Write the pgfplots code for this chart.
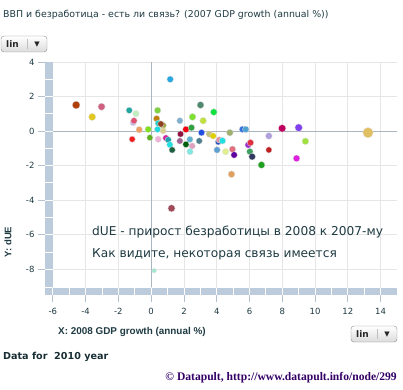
\documentclass[border=0pt]{standalone}
\usepackage{pgfplots}
\pgfplotsset{compat=1.18}
\usepackage{fontspec}
\setmainfont{DejaVu Sans}
\newfontfamily\arialf{Liberation Sans}
\newfontfamily\timesf{Liberation Serif}
\definecolor{txt}{HTML}{1E3A42}
\definecolor{barc}{HTML}{BCCCDC}
\definecolor{gridc}{HTML}{E6E6E6}
\definecolor{zeroc}{HTML}{A9B5BF}
\definecolor{copyc}{HTML}{330066}
\newcommand{\bub}[5]{\xglobal\definecolor{#3}{HTML}{#4}%
  \addplot[only marks, mark=*, mark size=#5, mark options={draw=black!12, fill=#3, line width=0.3pt}] coordinates {(#1,#2)};}
\newcommand\linbtn[2]{%
 \begin{scope}[shift={(#1,#2)}]
 \shade[top color=white, bottom color=black!14, draw=black!45, rounded corners=3pt] (0,0) rectangle (46pt,16pt);
 \node[font=\bfseries\fontsize{9}{10}\selectfont, text=black!85] at (11.5pt,8pt) {lin};
 \draw[black!25] (26pt,3pt) -- (26pt,13pt);
 \node[font=\fontsize{7}{8}\selectfont, text=black!85] at (36pt,7.5pt) {▼};
 \end{scope}}
\begin{document}
\begin{tikzpicture}
\useasboundingbox (0,0) rectangle (403pt,389pt);
\begin{axis}[at={(45pt,94pt)}, anchor=south west, scale only axis,
  width=352pt, height=233pt,
  xmin=-6.48, xmax=15, ymin=-9.49, ymax=4,
  axis line style={draw=none},
  tick pos=left, tick align=outside, major tick length=7pt,
  tick style={color=barc!85!gray, line width=0.8pt},
  xtick={-6,-4,...,14}, ytick={-8,-6,...,4},
  xticklabels={-6,-4,-2,0,2,4,6,8,10,12,14},
  yticklabels={-8,-6,-4,-2,0,2,4},
  ticklabel style={font=\fontsize{8.5}{10}\selectfont, text=txt},
  xticklabel style={yshift=-3pt},
  grid=major, major grid style={gridc, line width=0.8pt},
  clip=false]
\fill[barc] (axis cs:-6.48,-9.49) rectangle (axis cs:15,-9.06);
\fill[barc] (axis cs:-6.48,-9.0) rectangle (axis cs:-6,4);
\pgfplotsinvokeforeach{-6,...,14}{\draw[white, line width=0.9pt] (axis cs:#1,-9.49) -- (axis cs:#1,-9.06);}
\pgfplotsinvokeforeach{-8,...,3}{\draw[white, line width=0.9pt] (axis cs:-6.48,#1) -- (axis cs:-6,#1);}
\draw[zeroc, line width=0.8pt] (axis cs:0,-9.03) -- (axis cs:0,4);
\draw[zeroc, line width=0.8pt] (axis cs:-6,0) -- (axis cs:15,0);
\bub{1.16}{3.0}{ca}{29A8E0}{3.3}
\bub{-4.58}{1.51}{cb}{B0400A}{3.9}
\bub{-3.03}{1.41}{cc}{D06080}{3.6}
\bub{-3.6}{0.82}{cd}{E0C820}{3.6}
\bub{-1.34}{1.2}{ce}{20A8A0}{3.2}
\bub{-1.1}{0.49}{cf}{C0B8E8}{3.2}
\bub{-0.93}{1.01}{cg}{C0F0C0}{3.3}
\bub{-1.05}{0.6}{ch}{E05070}{3.2}
\bub{-0.73}{0.08}{ci}{F0A060}{3.3}
\bub{-0.18}{0.1}{cj}{80E020}{3.3}
\bub{-1.16}{-0.47}{ck}{F02020}{3.1}
\bub{-0.08}{-0.38}{cl}{60B020}{3.1}
\bub{0.39}{1.2}{cm}{80D040}{3.3}
\bub{0.33}{0.72}{cn}{C08010}{3.3}
\bub{0.43}{0.45}{co}{20D0D0}{3.2}
\bub{0.73}{0.33}{cp}{A0A040}{3.2}
\bub{0.59}{0.41}{cq}{904020}{3.2}
\bub{0.39}{0.1}{cr}{20D8E0}{3.2}
\bub{0.73}{0.02}{cs}{D8D090}{3.2}
\bub{0.43}{-0.47}{ct}{F0B0D8}{3.2}
\bub{0.9}{-0.4}{cu}{D020A0}{3.2}
\bub{1.04}{-0.51}{cv}{20A0B0}{3.2}
\bub{1.14}{-0.79}{cw}{20E0E0}{3.2}
\bub{1.28}{-1.09}{cx}{206040}{3.2}
\bub{1.75}{0.6}{cy}{80B0D0}{3.2}
\bub{1.79}{-0.17}{cz}{901040}{3.2}
\bub{2.12}{0.1}{da}{F00010}{3.3}
\bub{2.46}{0.2}{db}{30A040}{3.3}
\bub{2.52}{0.82}{dc}{80E030}{3.5}
\bub{3.01}{1.51}{dd}{508870}{3.5}
\bub{3.17}{0.6}{de}{C0E040}{3.4}
\bub{3.82}{1.1}{df}{10E040}{3.4}
\bub{1.75}{-0.57}{dg}{A06090}{3.2}
\bub{2.36}{-0.48}{dh}{60B0D0}{3.2}
\bub{2.12}{-0.77}{di}{006010}{3.2}
\bub{2.5}{-0.86}{dj}{E0A0C0}{3.2}
\bub{2.37}{-1.19}{dk}{80E8E0}{3.2}
\bub{2.93}{-0.57}{dl}{508090}{3.2}
\bub{3.07}{-0.09}{dm}{2050E0}{3.3}
\bub{3.54}{-0.17}{dn}{C0C080}{3.3}
\bub{3.78}{-0.28}{do}{E0D000}{3.2}
\bub{4.1}{-0.62}{dp}{2050C0}{3.2}
\bub{4.15}{-0.51}{dq}{E090A0}{3.2}
\bub{4.35}{-0.56}{dr}{20E0E0}{3.3}
\bub{4.02}{-1.09}{ds}{60A0D0}{3.3}
\bub{4.54}{-1.19}{dt}{E0F090}{3.3}
\bub{4.8}{-0.09}{du}{A0B070}{3.4}
\bub{4.96}{-1.05}{dv}{E07080}{3.3}
\bub{5.06}{-1.38}{dw}{6000A0}{3.3}
\bub{5.57}{0.1}{dx}{3070E0}{3.3}
\bub{5.77}{0.1}{dy}{50A0D0}{3.3}
\bub{5.92}{-0.8}{dz}{A030D0}{3.3}
\bub{6.06}{-0.67}{ea}{E03040}{3.3}
\bub{6.02}{-1.19}{eb}{40A060}{3.3}
\bub{6.16}{-1.48}{ec}{303860}{3.4}
\bub{7.18}{-0.28}{ed}{B0A0E0}{3.4}
\bub{7.99}{0.16}{ee}{C00060}{3.8}
\bub{9.0}{0.2}{ef}{8040F0}{3.8}
\bub{9.41}{-0.59}{eg}{A0E040}{3.4}
\bub{7.18}{-1.09}{eh}{C02020}{3.1}
\bub{6.73}{-1.96}{ei}{20A020}{3.5}
\bub{8.87}{-1.58}{ej}{E020E0}{3.4}
\bub{4.9}{-2.5}{ek}{E0A060}{3.4}
\bub{13.23}{-0.09}{el}{E0C060}{5.2}
\bub{1.24}{-4.47}{em}{A04A5A}{3.6}
\bub{0.18}{-8.08}{en}{A0E8D0}{2.3}
\end{axis}
\node[anchor=west, font=\fontsize{9.4}{11}\selectfont, text=txt, inner sep=0pt] at (3pt,374pt) {ВВП и безработица - есть ли связь? (2007 GDP growth (annual \%))};
\linbtn{1pt}{337pt}
\linbtn{351pt}{47pt}
\node[anchor=west, font=\fontsize{12.2}{14}\selectfont, text=txt, inner sep=0pt] at (92pt,157pt) {dUE - прирост безработицы в 2008 к 2007-му};
\node[anchor=west, font=\fontsize{12.2}{14}\selectfont, text=txt, inner sep=0pt] at (92pt,135pt) {Как видите, некоторая связь имеется};
\node[rotate=90, font=\arialf\bfseries\fontsize{9.5}{10}\selectfont, text=txt, inner sep=0pt] at (8pt,147pt) {Y: dUE};
\node[anchor=west, font=\arialf\bfseries\fontsize{9.9}{11}\selectfont, text=txt, inner sep=0pt] at (58pt,57pt) {X: 2008 GDP growth (annual \%)};
\node[anchor=west, font=\bfseries\fontsize{9.6}{11}\selectfont, text=txt!80!black, inner sep=0pt] at (3pt,32pt) {Data for\ \ 2010 year};
\node[anchor=east, font=\timesf\bfseries\fontsize{11.6}{13}\selectfont, text=copyc, inner sep=0pt] at (397pt,11pt) {© Datapult, http://www.datapult.info/node/299};
\end{tikzpicture}
\end{document}
